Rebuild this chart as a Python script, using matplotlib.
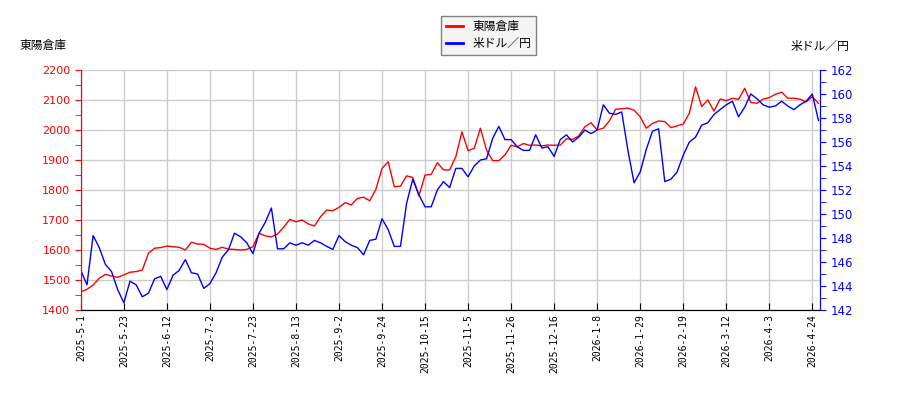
import numpy as np
import matplotlib
matplotlib.use("Agg")
import matplotlib.pyplot as plt
from matplotlib.ticker import MultipleLocator

# 東陽倉庫 (left axis), read every 2nd trading day
toyo = [1461, 1469, 1483, 1506, 1519, 1513, 1509, 1517, 1526, 1528,
        1533, 1589, 1606, 1608, 1613, 1611, 1609, 1600, 1626, 1620,
        1619, 1606, 1602, 1609, 1603, 1602, 1600, 1602, 1611, 1656,
        1647, 1644, 1653, 1676, 1702, 1694, 1700, 1687, 1680, 1711,
        1733, 1731, 1742, 1758, 1750, 1772, 1776, 1764, 1802, 1872,
        1894, 1811, 1813, 1847, 1842, 1780, 1850, 1852, 1891, 1867,
        1867, 1911, 1994, 1931, 1939, 2006, 1933, 1898, 1898, 1917,
        1949, 1944, 1955, 1949, 1950, 1947, 1950, 1949, 1950, 1971,
        1969, 1980, 2011, 2024, 2000, 2006, 2031, 2069, 2071, 2073,
        2066, 2044, 2006, 2022, 2030, 2028, 2008, 2014, 2020, 2056,
        2144, 2078, 2100, 2063, 2103, 2098, 2106, 2102, 2139, 2092,
        2089, 2103, 2108, 2119, 2126, 2106, 2106, 2103, 2094, 2111,
        2089]

# 米ドル／円 (right axis)
usdjpy = [145.3, 144.1, 148.2, 147.2, 145.8, 145.2, 143.7, 142.6, 144.4, 144.1,
          143.1, 143.4, 144.6, 144.8, 143.7, 144.9, 145.3, 146.2, 145.1, 145.0,
          143.8, 144.2, 145.1, 146.4, 147.0, 148.4, 148.1, 147.6, 146.7, 148.4,
          149.3, 150.5, 147.1, 147.1, 147.6, 147.4, 147.6, 147.4, 147.8, 147.6,
          147.3, 147.05, 148.2, 147.7, 147.4, 147.2, 146.6, 147.8, 147.9, 149.6,
          148.7, 147.3, 147.3, 150.9, 152.9, 151.6, 150.6, 150.6, 152.0, 152.7,
          152.2, 153.8, 153.8, 153.1, 154.0, 154.5, 154.6, 156.3, 157.3, 156.2,
          156.2, 155.6, 155.3, 155.3, 156.6, 155.5, 155.6, 154.8, 156.2, 156.6,
          156.0, 156.4, 157.0, 156.7, 157.0, 159.1, 158.4, 158.3, 158.5, 155.3,
          152.6, 153.5, 155.4, 156.9, 157.1, 152.7, 152.9, 153.5, 154.9, 156.0,
          156.4, 157.4, 157.6, 158.3, 158.7, 159.1, 159.4, 158.1, 158.9, 160.0,
          159.6, 159.1, 158.9, 159.0, 159.4, 159.0, 158.7, 159.1, 159.4, 160.0,
          157.8]

date_labels = ["2025-5-1", "2025-5-23", "2025-6-12", "2025-7-2", "2025-7-23",
               "2025-8-13", "2025-9-2", "2025-9-24", "2025-10-15", "2025-11-5",
               "2025-11-26", "2025-12-16", "2026-1-8", "2026-1-29", "2026-2-19",
               "2026-3-12", "2026-4-3", "2026-4-24"]

jp = ["Noto Sans CJK JP", "DejaVu Sans"]

idx = np.arange(len(toyo)) * 2
tick_pos = np.arange(len(date_labels)) * 14

fig = plt.figure(figsize=(9, 4), dpi=100)
ax = fig.add_axes([0.0898, 0.225, 0.8213, 0.6])
ax2 = ax.twinx()

l1, = ax.plot(idx, toyo, color="#ff0000", lw=1.0)
l2, = ax2.plot(idx, usdjpy, color="#0000ff", lw=1.0)

ax.set_xlim(0, 240.5)
ax.set_ylim(1400, 2200)
ax2.set_ylim(142, 162)

ax.set_xticks(tick_pos)
ax.set_xticklabels(date_labels, rotation=90, family="DejaVu Sans Mono", fontsize=7)
ax.yaxis.set_major_locator(MultipleLocator(100))
ax.yaxis.set_minor_locator(MultipleLocator(50))
ax2.yaxis.set_major_locator(MultipleLocator(2))
ax2.yaxis.set_minor_locator(MultipleLocator(1))

ax.grid(True, color="#cccccc", lw=1.0)
ax.set_axisbelow(True)

ax.tick_params(axis="x", direction="in", length=5, color="black", pad=3)
ax.tick_params(axis="y", which="both", direction="out", length=4,
               color="#ff0000", labelcolor="#ff0000", labelsize=8)
ax2.tick_params(axis="y", which="both", direction="out", length=4,
                color="#0000ff", labelcolor="#0000ff", labelsize=8.5)

for a in (ax, ax2):
    a.spines["top"].set_visible(False)
    a.spines["left"].set_color("#ff0000")
    a.spines["right"].set_color("#0000ff")
    a.spines["bottom"].set_color("black")

fig.text(0.022, 0.885, "東陽倉庫", family=jp, fontsize=8.5, va="center", ha="left")
fig.text(0.944, 0.885, "米ドル／円", family=jp, fontsize=8.5, va="center", ha="right")

leg = fig.legend([l1, l2], ["東陽倉庫", "米ドル／円"], loc="center",
                 bbox_to_anchor=(0.543, 0.912), prop={"family": jp, "size": 8.5},
                 fancybox=False, framealpha=1, handlelength=1.5,
                 borderpad=0.4, labelspacing=0.3)
leg.get_frame().set_edgecolor("#808080")
leg.get_frame().set_facecolor("#f4f4f4")
for h in leg.get_lines():
    h.set_linewidth(2)

fig.savefig("out.png", dpi=100)
